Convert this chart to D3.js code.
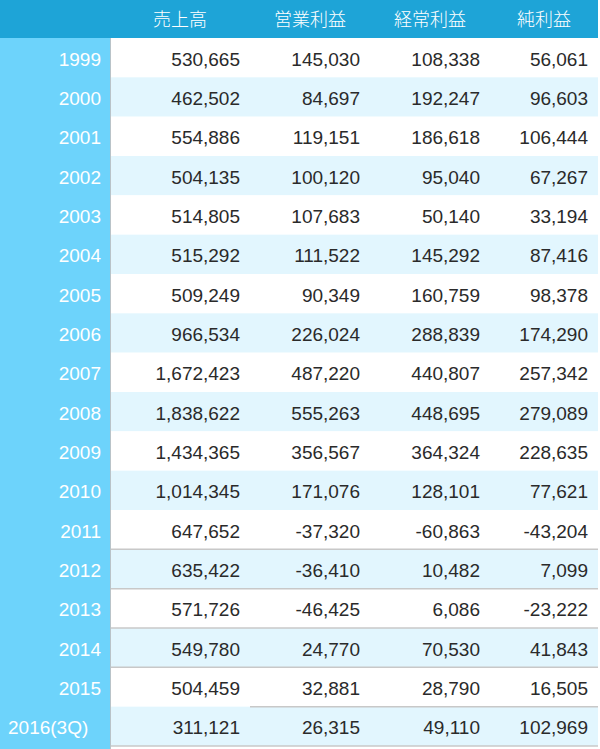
<!DOCTYPE html>
<meta charset="utf-8">
<script src="https://d3js.org/d3.v7.min.js"></script>
<style>
  body { margin: 0; background: #fff; }
</style>
<div id="my_table"></div>
<script>

    // Data
    const years = ["1999", "2000", "2001", "2002", "2003", "2004", "2005", "2006", "2007",
        "2008", "2009", "2010", "2011", "2012", "2013", "2014", "2015", "2016(3Q)"];
    const columns = ["売上高", "営業利益", "経常利益", "純利益"];
    const sales = [530665, 462502, 554886, 504135, 514805, 515292, 509249, 966534, 1672423,
        1838622, 1434365, 1014345, 647652, 635422, 571726, 549780, 504459, 311121];
    const operatingProfit = [145030, 84697, 119151, 100120, 107683, 111522, 90349, 226024, 487220,
        555263, 356567, 171076, -37320, -36410, -46425, 24770, 32881, 26315];
    const ordinaryProfit = [108338, 192247, 186618, 95040, 50140, 145292, 160759, 288839, 440807,
        448695, 364324, 128101, -60863, 10482, 6086, 70530, 28790, 49110];
    const netProfit = [56061, 96603, 106444, 67267, 33194, 87416, 98378, 174290, 257342,
        279089, 228635, 77621, -43204, 7099, -23222, 41843, 16505, 102969];

    const series = [sales, operatingProfit, ordinaryProfit, netProfit];

    // Layout
    const width = 600, height = 749,
        tableRight = 598, labelWidth = 110, headerHeight = 38, tableBottom = 746;

    const svg = d3.select("#my_table")
        .append("svg")
        .attr("width", width)
        .attr("height", height);

    // Row scale
    const y = d3.scaleBand()
        .domain(years)
        .range([headerHeight, tableBottom]);

    // Column scale (first column also takes the gap next to the year labels)
    const x = d3.scaleBand()
        .domain(columns)
        .range([130, 610]);
    const colLeft = c => c === columns[0] ? labelWidth : x(c);
    const colRight = c => Math.min(x(c) + x.bandwidth(), tableRight);

    const cells = [];
    years.forEach((yr, i) => {
        columns.forEach((c, j) => cells.push({ year: yr, row: i, col: c, value: series[j][i] }));
    });

    // plain hyphen for negatives, like the original
    const fmt = d3.formatLocale({ decimal: ".", thousands: ",", grouping: [3], currency: ["", ""], minus: "-" }).format(",");

    // Row backgrounds
    svg.selectAll(".rowbg")
        .data(years)
        .join("rect")
        .attr("class", "rowbg")
        .attr("x", labelWidth)
        .attr("y", d => y(d))
        .attr("width", tableRight - labelWidth)
        .attr("height", y.bandwidth())
        .attr("fill", (d, i) => i % 2 ? "#e2f6fe" : "#ffffff");

    // Year column
    svg.append("rect")
        .attr("x", 0)
        .attr("y", headerHeight)
        .attr("width", labelWidth)
        .attr("height", height - headerHeight)
        .attr("fill", "#6dd3fb");

    svg.append("line")
        .attr("x1", labelWidth + 0.5).attr("x2", labelWidth + 0.5)
        .attr("y1", headerHeight).attr("y2", height)
        .attr("stroke", "#b9c3c8");

    // Header bar
    svg.append("rect")
        .attr("x", 0)
        .attr("y", 0)
        .attr("width", tableRight)
        .attr("height", headerHeight)
        .attr("fill", "#1ea4d7");

    svg.selectAll(".head")
        .data(columns)
        .join("text")
        .attr("class", "head")
        .attr("x", d => (colLeft(d) + colRight(d)) / 2)
        .attr("y", headerHeight / 2 + 7)
        .attr("text-anchor", "middle")
        .style("font-family", "'Noto Sans CJK JP', sans-serif")
        .style("font-weight", 300)
        .style("font-size", "18px")
        .style("fill", "#fff")
        .text(d => d);

    // Separator rules on the later rows
    const ruled = years.slice(years.indexOf("2011"));
    svg.selectAll(".rule")
        .data(ruled)
        .join("line")
        .attr("class", "rule")
        .attr("x1", d => d === "2015" ? colRight(columns[0]) : labelWidth + 1)
        .attr("x2", tableRight)
        .attr("y1", d => y(d) + y.bandwidth())
        .attr("y2", d => y(d) + y.bandwidth())
        .attr("stroke", "#c8c8c8")
        .attr("stroke-width", 1.5);

    // Year labels
    svg.selectAll(".year")
        .data(years)
        .join("text")
        .attr("class", "year")
        .attr("x", d => d.length > 4 ? 8 : 101)
        .attr("y", d => y(d) + y.bandwidth() / 2 + 8)
        .attr("text-anchor", d => d.length > 4 ? "start" : "end")
        .style("font-family", "'Liberation Sans', Arial, sans-serif")
        .style("font-size", "19px")
        .style("fill", "#fff")
        .text(d => d);

    // Values
    svg.selectAll(".val")
        .data(cells)
        .join("text")
        .attr("class", "val")
        .attr("x", d => colRight(d.col) - 10)
        .attr("y", d => y(d.year) + y.bandwidth() / 2 + 8)
        .attr("text-anchor", "end")
        .style("font-family", "'Liberation Sans', Arial, sans-serif")
        .style("font-size", "19px")
        .style("fill", "#2a2a2a")
        .text(d => fmt(d.value));

</script>
